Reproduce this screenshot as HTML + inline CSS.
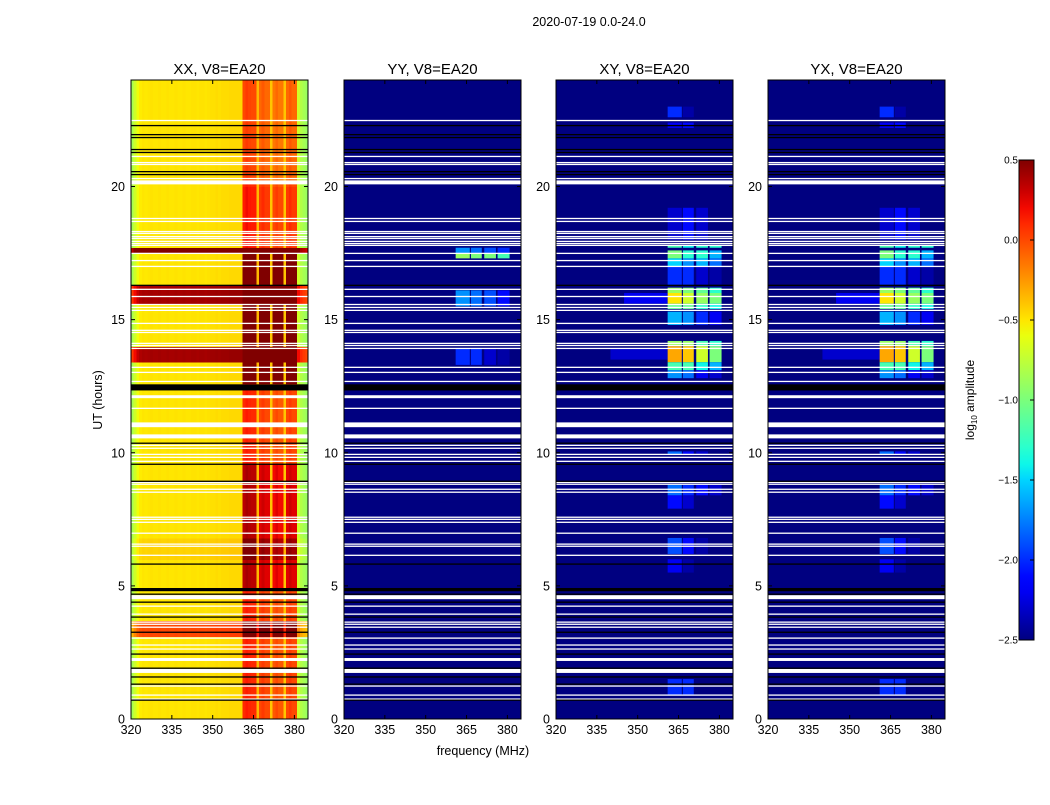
<!DOCTYPE html>
<html><head><meta charset="utf-8">
<style>
body{margin:0;background:#fff;}
svg text{font-family:"Liberation Sans",sans-serif;}
</style></head>
<body>
<svg id="fig" width="1050" height="800" viewBox="0 0 1050 800" xmlns="http://www.w3.org/2000/svg">
<rect width="1050" height="800" fill="#fff"/>
<text x="589" y="26" font-size="12.5" text-anchor="middle">2020-07-19 0.0-24.0</text>
<text x="483" y="755" font-size="12.5" text-anchor="middle">frequency (MHz)</text>
<text transform="translate(102,400) rotate(-90)" font-size="12.5" text-anchor="middle">UT (hours)</text>
<text transform="translate(974,400) rotate(-90)" font-size="12" text-anchor="middle">log<tspan font-size="8" dy="3">10</tspan><tspan dy="-3"> amplitude</tspan></text>
<defs><linearGradient id="cbgrad" x1="0" y1="1" x2="0" y2="0"></linearGradient></defs>
<g id="panels"></g>
<g id="cbar"></g>
</svg>
<script>
// ---------- data ----------
const panelNames = ["XX, V8=EA20","YY, V8=EA20","XY, V8=EA20","YX, V8=EA20"];
const freqStart = 320;
// XX log10 amplitude per 1 MHz channel, 320..384
const xxFreqProfile = [-0.85,-0.7,-0.58,-0.52,-0.5,-0.51,-0.5,-0.49,-0.5,-0.5,-0.49,-0.5,-0.5,-0.49,-0.5,-0.5,-0.49,-0.5,-0.5,-0.49,
 -0.5,-0.5,-0.49,-0.49,-0.5,-0.49,-0.49,-0.5,-0.49,-0.48,-0.48,-0.47,-0.48,-0.47,-0.47,-0.47,-0.46,-0.46,-0.46,-0.46,
 -0.46,0.1,0.15,0.12,0.1,0.1,-0.35,0.0,0.05,0.0,0.0,-0.4,-0.05,0.0,-0.05,-0.05,-0.4,0.0,0.05,0.0,0.0,-0.7,-0.8,-0.85,-0.9];
// XX time segments: [startHour, endHour, offset, stripeBoost]
const xxTimeSegs = [[3.1,3.7,0.5,0.1],[4.9,9.6,0,0.25],[6.0,6.8,0.06,0.35],[12.6,17.5,0,0.6],[13.4,14.0,0.9,0.6],
 [15.6,16.3,0.9,0.6],[17.5,17.7,1.2,0.6],[17.7,20.0,0,0.05],[20.2,24,0,-0.1]];
// RFI stripe bands in MHz
const stripeBands = [[361,366.2],[366.6,370.6],[371.5,375.8],[376.4,380.8]];
// segments: [start, end, stripe1, stripe2, stripe3, stripe4]
const yySegs = [[17.3,17.5,-0.9,-1.0,-1.0,-1.2],[17.5,17.7,-1.7,-1.8,-1.9,-2.0],[15.5,16.1,-1.7,-1.8,-1.9,-2.1],[13.3,13.9,-2.0,-2.0,-2.3,-2.4]];
const xySegs = [[22.6,23.0,-2.0,-2.4,-2.5,-2.5],[22.2,22.4,-2.2,-2.1,-2.5,-2.5],[18.0,19.2,-2.3,-2.1,-2.3,-2.5],
 [17.7,17.8,-1.2,-1.4,-1.3,-1.3],[17.3,17.6,-1.0,-1.3,-1.3,-1.6],[17.0,17.3,-1.5,-1.7,-1.6,-1.8],[16.3,17.0,-2.0,-2.0,-2.3,-2.4],
 [16.0,16.2,-0.9,-1.0,-1.1,-1.3],[15.6,16.0,-0.5,-0.7,-0.9,-1.0],[15.4,15.6,-1.1,-1.1,-1.3,-1.4],[14.8,15.3,-1.6,-1.7,-2.0,-2.2],
 [14.0,14.2,-0.9,-0.9,-1.2,-1.3],[13.4,14.0,-0.3,-0.4,-0.7,-1.0],[13.1,13.4,-1.2,-1.2,-1.4,-1.6],[12.8,13.1,-1.7,-1.8,-2.2,-2.3],
 [9.95,10.05,-1.8,-2.1,-2.3,-2.5],[8.4,8.8,-1.8,-2.0,-2.1,-2.3],[7.9,8.4,-2.1,-2.3,-2.5,-2.5],[6.2,6.8,-1.9,-2.1,-2.4,-2.5],
 [5.5,6.0,-2.2,-2.4,-2.5,-2.5],[0.9,1.5,-2.0,-2.0,-2.5,-2.5]];
const yxSegs = xySegs.map(s=>s.slice());
// smear segments: [start,end,fromMHz,toMHz,value]
const xySmears = [[15.6,16.0,345,361,-2.2],[13.5,13.9,340,361,-2.3]];
// flagged (white) lines, hours
const whiteLines = [22.48,21.13,20.90,20.83,20.30,18.80,18.69,18.31,18.24,18.12,18.05,17.94,17.86,17.79,17.49,17.22,17.00,16.14,15.87,15.57,15.46,15.35,14.86,14.60,14.52,14.11,14.03,13.92,13.21,13.02,12.68,11.67,10.28,10.17,9.94,9.83,9.68,8.89,8.82,8.63,8.52,7.58,7.50,7.39,6.98,6.57,6.49,6.15,4.24,3.94,3.64,3.56,3.45,3.04,2.78,2.63,1.24,0.90,0.75];
const whiteBands = [[20.08,20.23],[12.05,12.16],[10.96,11.14],[10.54,10.69],[4.50,4.65],[2.18,2.29],[1.73,1.88]];
const blackLines = [22.29,21.95,21.84,21.39,21.28,20.56,20.45,16.29,10.36,9.57,8.93,5.82,4.69,4.39,3.83,3.26,2.44,1.91,1.58,1.31,0.71];
const blackBands = [[12.34,12.57],[4.80,4.92]];
const xTicks = [320,335,350,365,380];
const yTicks = [0,5,10,15,20];
const cbTicks = [0.5,0.0,-0.5,-1.0,-1.5,-2.0,-2.5];

// ---------- layout ----------
const panelLeft = [131,344,556,768];
const pW = 177, pTop = 80, pBot = 719;
const fMin = 320, fMax = 385, tMin = 0, tMax = 24, vMin = -2.5, vMax = 0.5;
const NS = "http://www.w3.org/2000/svg";
function xs(p,f){return panelLeft[p] + (f-fMin)/(fMax-fMin)*pW;}
function ys(h){return pBot - (h-tMin)/(tMax-tMin)*(pBot-pTop);}
function interp(t,pts){for(let i=1;i<pts.length;i++){if(t<=pts[i][0]){const a=pts[i-1],b=pts[i];return a[1]+(b[1]-a[1])*(t-a[0])/(b[0]-a[0]);}}return pts[pts.length-1][1];}
function jet(v){let t=(v-vMin)/(vMax-vMin);t=Math.max(0,Math.min(1,t));
 const r=interp(t,[[0,0],[0.35,0],[0.66,1],[0.89,1],[1,0.5]]);
 const g=interp(t,[[0,0],[0.125,0],[0.375,1],[0.64,1],[0.91,0],[1,0]]);
 const b=interp(t,[[0,0.5],[0.11,1],[0.34,1],[0.65,0],[1,0]]);
 return `rgb(${Math.round(r*255)},${Math.round(g*255)},${Math.round(b*255)})`;}
function mk(tag,attrs,parent){const e=document.createElementNS(NS,tag);for(const k in attrs)e.setAttribute(k,attrs[k]);parent.appendChild(e);return e;}
const panelsG = document.getElementById('panels');

function breakpoints(segs){const s=new Set([tMin,tMax]);segs.forEach(g=>{s.add(g[0]);s.add(g[1]);});return [...s].sort((a,b)=>a-b);}

for(let p=0;p<4;p++){
 const g = mk('g',{},panelsG);
 
 
 const x0=xs(p,fMin), x1=xs(p,fMax);
 const bg = mk('rect',{x:x0,y:pTop,width:x1-x0,height:pBot-pTop,fill:jet(vMin)},g);
 
 
 if(p===0){
  const bps = breakpoints(xxTimeSegs);
  for(let i=0;i<bps.length-1;i++){
   const a=bps[i],b=bps[i+1],mid=(a+b)/2;
   let off=0,boost=0;
   xxTimeSegs.forEach(s=>{if(mid>=s[0]&&mid<s[1]){off=s[2];boost=s[3];}});
   for(let c=0;c<xxFreqProfile.length;c++){
    const base=xxFreqProfile[c];
    const v=base+off+(base>-0.2?boost:0);
    const f0=freqStart+c;
    const r=mk('rect',{x:xs(p,f0),y:ys(b),width:xs(p,f0+1)-xs(p,f0)+0.5,height:ys(a)-ys(b)+0.5,fill:jet(v),'shape-rendering':'crispEdges'},g);
    
    
   }
  }
 } else {
  const segs = p===1?yySegs:(p===2?xySegs:yxSegs);
  if(p>=2){
   xySmears.forEach(s=>{
    const r=mk('rect',{x:xs(p,s[2]),y:ys(s[1]),width:xs(p,s[3])-xs(p,s[2]),height:ys(s[0])-ys(s[1]),fill:jet(s[4])},g);
    
    
   });
  }
  segs.forEach(s=>{
   for(let k=0;k<4;k++){
    const v=s[2+k]; if(v<=vMin) continue;
    const band=stripeBands[k];
    const r=mk('rect',{x:xs(p,band[0]),y:ys(s[1]),width:xs(p,band[1])-xs(p,band[0]),height:ys(s[0])-ys(s[1]),fill:jet(v)},g);
    
    
   }
  });
 }
 // flags
 whiteLines.forEach(h=>{const r=mk('rect',{x:x0,y:ys(h)-0.6,width:x1-x0,height:1.3,fill:'#fff'},g);
  
  });
 whiteBands.forEach(b=>{const r=mk('rect',{x:x0,y:ys(b[1]),width:x1-x0,height:ys(b[0])-ys(b[1]),fill:'#fff'},g);
  
  });
 blackLines.forEach(h=>{const r=mk('rect',{x:x0,y:ys(h)-0.6,width:x1-x0,height:1.3,fill:'#000'},g);
  
  });
 blackBands.forEach(b=>{const r=mk('rect',{x:x0,y:ys(b[1]),width:x1-x0,height:ys(b[0])-ys(b[1]),fill:'#000'},g);
  
  });
 // frame
 const fr=mk('rect',{x:x0,y:pTop,width:x1-x0,height:pBot-pTop,fill:'none',stroke:'#000','stroke-width':1},g);
 
 
 // ticks
 xTicks.forEach(t=>{const x=xs(p,t);
  mk('line',{x1:x,y1:pBot,x2:x,y2:pBot-4,stroke:'#000'},g);
  mk('line',{x1:x,y1:pTop,x2:x,y2:pTop+4,stroke:'#000'},g);
  const tx=mk('text',{x:x,y:pBot+15,'font-size':12.5,'text-anchor':'middle'},g);tx.textContent=t;
  
  });
 yTicks.forEach(t=>{const y=ys(t);
  mk('line',{x1:x0,y1:y,x2:x0+4,y2:y,stroke:'#000'},g);
  mk('line',{x1:x1,y1:y,x2:x1-4,y2:y,stroke:'#000'},g);
  const tx=mk('text',{x:x0-6,y:y+4.5,'font-size':12.5,'text-anchor':'end'},g);tx.textContent=t;
  
  });
 const tt=mk('text',{x:(x0+x1)/2,y:74,'font-size':15,'text-anchor':'middle'},g);tt.textContent=panelNames[p];
 
 
}

// colorbar
const grad=document.getElementById('cbgrad');
for(let i=0;i<=30;i++){const v=vMin+(vMax-vMin)*i/30;mk('stop',{offset:(i/30),'stop-color':jet(v)},grad);}
const cb=document.getElementById('cbar');
const cbX=1019,cbW=15,cbTop=160,cbBot=640;
function cy(v){return cbBot-(v-vMin)/(vMax-vMin)*(cbBot-cbTop);}
const cbr=mk('rect',{x:cbX,y:cbTop,width:cbW,height:cbBot-cbTop,fill:'url(#cbgrad)',stroke:'#000','stroke-width':1},cb);


cbTicks.forEach(v=>{const y=cy(v);
 mk('line',{x1:cbX+cbW,y1:y,x2:cbX+cbW-4,y2:y,stroke:'#000'},cb);
 const tx=mk('text',{x:cbX-1,y:y+3.5,'font-size':10,'text-anchor':'end'},cb);
 tx.textContent=(v<0?'\u2212'+Math.abs(v).toFixed(1):v.toFixed(1));
 
 });
</script>
</body></html>
